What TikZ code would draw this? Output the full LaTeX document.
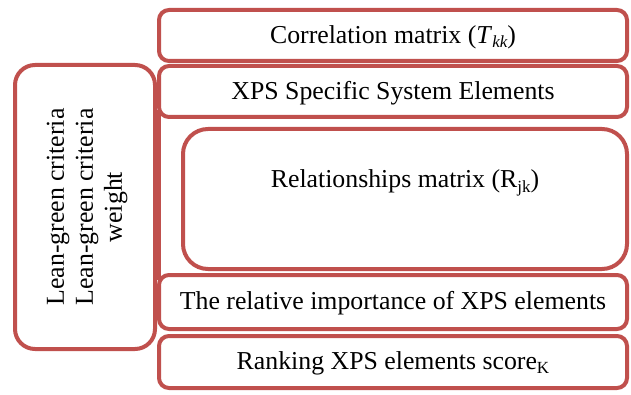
\documentclass[tikz,border=0pt]{standalone}
\usepackage{fontspec}
\setmainfont{Liberation Serif}
\definecolor{boxred}{HTML}{C0504D}
\newcommand{\subtx}[1]{\raisebox{-0.35ex}{\fontsize{17}{17}\selectfont #1}}
\begin{document}
\begin{tikzpicture}[x=1pt,y=-1pt,
  rbox/.style={draw=boxred,line width=4pt,rounded corners=#1},
  rbox/.default=10pt,
  lbl/.style={font=\fontsize{25.8}{30}\selectfont,inner sep=0pt}]
\useasboundingbox (0,0) rectangle (631,395);
% left box
\draw[rbox=20pt] (15,65) rectangle (155,349);
\node[lbl,rotate=90,align=center,font=\fontsize{25.8}{29}\selectfont] (left) at (87,207) {Lean-green criteria\\Lean-green criteria\\weight};
% connector line between box2 and box4
\coordinate (vtop) at (159,110);
\coordinate (vbot) at (159,280);
\draw[boxred,line width=4pt] (vtop) -- (vbot);
% box1
\draw[rbox] (159,10) rectangle (627,61);
\node[lbl] (b1) at (393,37) {Correlation matrix (\textit{T}\subtx{\itshape kk})};
% box2
\draw[rbox] (159,66) rectangle (627,117);
\node[lbl] (b2) at (393,93) {XPS Specific System Elements};
% box3
\draw[rbox=25pt] (183,129) rectangle (627,269);
\node[lbl,anchor=base] (b3) at (405,188) {Relationships matrix (R\subtx{jk})};
% box4
\draw[rbox] (159,275) rectangle (627,329);
\node[lbl] (b4) at (393,303) {The relative importance of XPS elements};
% box5
\draw[rbox] (159,336) rectangle (627,388);
\node[lbl] (b5) at (393,363) {Ranking XPS elements score\subtx{K}};
\end{tikzpicture}
\end{document}
